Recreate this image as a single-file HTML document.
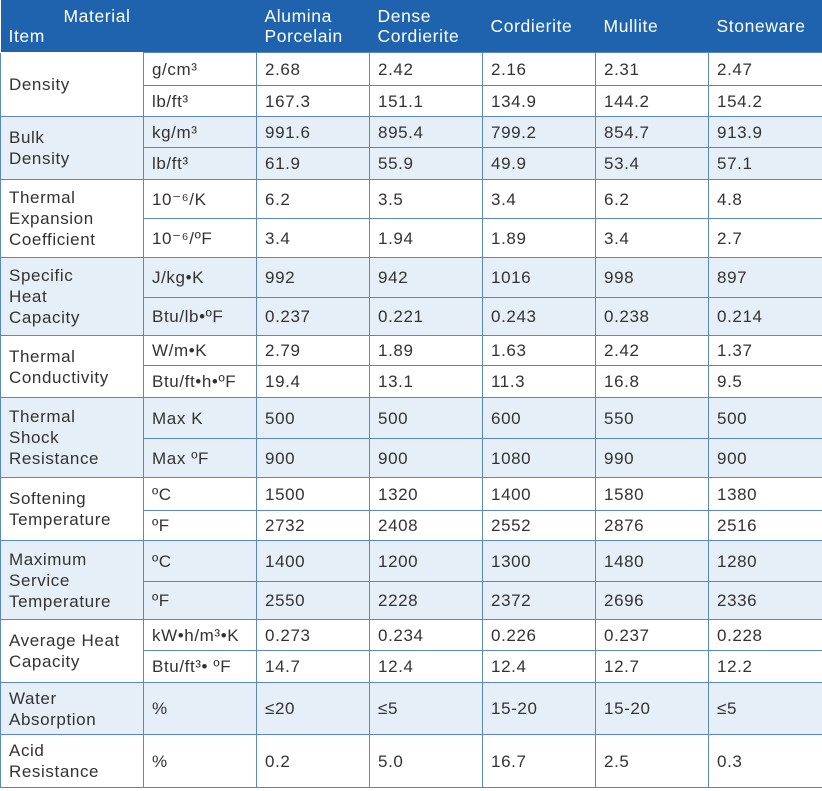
<!DOCTYPE html>
<html><head><meta charset="utf-8"><style>
body{margin:0;background:#fff;}
table{border-collapse:collapse;table-layout:fixed;width:822px;font-family:"Liberation Sans","DejaVu Sans",sans-serif;font-size:17px;color:#333;letter-spacing:0.6px;}
td,th{border:1.5px solid #5a88c6;padding:0 0 0 8px;vertical-align:middle;line-height:21px;text-align:left;font-weight:normal;overflow:hidden;}
tr.g td.item{border-top:none;border-bottom:none;}
tr.hd th{background:#1f63ae;color:#fff;border:none;height:52px;line-height:20px;font-size:17.5px;}
.l{background:#e6eff7;}
.w{background:#fff;}
tr.g td{border-top-width:0;}
td.nb{border-top:none;}
</style></head><body>
<table>
<colgroup><col style="width:143px"><col style="width:113px"><col style="width:113px"><col style="width:113px"><col style="width:113px"><col style="width:113px"><col style="width:114px"></colgroup>
<tr class="hd">
<th colspan="2"><div style="padding-left:55px">Material</div>Item</th>
<th>Alumina<br>Porcelain</th>
<th>Dense<br>Cordierite</th>
<th>Cordierite</th>
<th>Mullite</th>
<th>Stoneware</th>
</tr>
<tbody class="w"><tr style="height:33px"><td rowspan="2" class="nb">Density</td><td>g/cm³</td><td>2.68</td><td>2.42</td><td>2.16</td><td>2.31</td><td>2.47</td></tr>
<tr style="height:31px"><td>lb/ft³</td><td>167.3</td><td>151.1</td><td>134.9</td><td>144.2</td><td>154.2</td></tr></tbody>
<tbody class="l"><tr style="height:31px"><td rowspan="2">Bulk<br>Density</td><td>kg/m³</td><td>991.6</td><td>895.4</td><td>799.2</td><td>854.7</td><td>913.9</td></tr>
<tr style="height:32px"><td>lb/ft³</td><td>61.9</td><td>55.9</td><td>49.9</td><td>53.4</td><td>57.1</td></tr></tbody>
<tbody class="w"><tr style="height:39px"><td rowspan="2">Thermal<br>Expansion<br>Coefficient</td><td>10⁻⁶/K</td><td>6.2</td><td>3.5</td><td>3.4</td><td>6.2</td><td>4.8</td></tr>
<tr style="height:39px"><td>10⁻⁶/ºF</td><td>3.4</td><td>1.94</td><td>1.89</td><td>3.4</td><td>2.7</td></tr></tbody>
<tbody class="l"><tr style="height:40px"><td rowspan="2">Specific<br>Heat<br>Capacity</td><td>J/kg•K</td><td>992</td><td>942</td><td>1016</td><td>998</td><td>897</td></tr>
<tr style="height:38px"><td>Btu/lb•ºF</td><td>0.237</td><td>0.221</td><td>0.243</td><td>0.238</td><td>0.214</td></tr></tbody>
<tbody class="w"><tr style="height:30px"><td rowspan="2">Thermal<br>Conductivity</td><td>W/m•K</td><td>2.79</td><td>1.89</td><td>1.63</td><td>2.42</td><td>1.37</td></tr>
<tr style="height:32px"><td>Btu/ft•h•ºF</td><td>19.4</td><td>13.1</td><td>11.3</td><td>16.8</td><td>9.5</td></tr></tbody>
<tbody class="l"><tr style="height:41px"><td rowspan="2">Thermal<br>Shock<br>Resistance</td><td>Max K</td><td>500</td><td>500</td><td>600</td><td>550</td><td>500</td></tr>
<tr style="height:39px"><td>Max ºF</td><td>900</td><td>900</td><td>1080</td><td>990</td><td>900</td></tr></tbody>
<tbody class="w"><tr style="height:33px"><td rowspan="2">Softening<br>Temperature</td><td>ºC</td><td>1500</td><td>1320</td><td>1400</td><td>1580</td><td>1380</td></tr>
<tr style="height:30px"><td>ºF</td><td>2732</td><td>2408</td><td>2552</td><td>2876</td><td>2516</td></tr></tbody>
<tbody class="l"><tr style="height:41px"><td rowspan="2">Maximum<br>Service<br>Temperature</td><td>ºC</td><td>1400</td><td>1200</td><td>1300</td><td>1480</td><td>1280</td></tr>
<tr style="height:38px"><td>ºF</td><td>2550</td><td>2228</td><td>2372</td><td>2696</td><td>2336</td></tr></tbody>
<tbody class="w"><tr style="height:31px"><td rowspan="2">Average Heat<br>Capacity</td><td>kW•h/m³•K</td><td>0.273</td><td>0.234</td><td>0.226</td><td>0.237</td><td>0.228</td></tr>
<tr style="height:32px"><td>Btu/ft³• ºF</td><td>14.7</td><td>12.4</td><td>12.4</td><td>12.7</td><td>12.2</td></tr></tbody>
<tbody class="l"><tr style="height:52px"><td>Water<br>Absorption</td><td>%</td><td>≤20</td><td>≤5</td><td>15-20</td><td>15-20</td><td>≤5</td></tr></tbody>
<tbody class="w"><tr style="height:53px"><td>Acid<br>Resistance</td><td>%</td><td>0.2</td><td>5.0</td><td>16.7</td><td>2.5</td><td>0.3</td></tr></tbody>
</table>
</body></html>
